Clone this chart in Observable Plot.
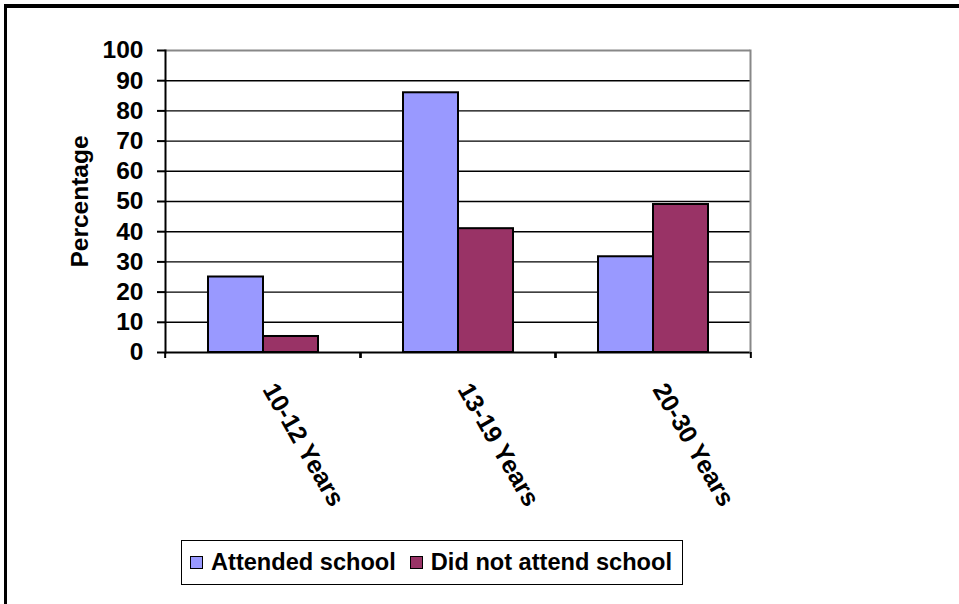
<!DOCTYPE html>
<html>
<head>
<meta charset="utf-8">
<script src="https://cdn.jsdelivr.net/npm/d3@7"></script>
<script src="https://cdn.jsdelivr.net/npm/@observablehq/plot@0.6"></script>
<style>
  html, body { margin: 0; padding: 0; background: #fff; width: 959px; height: 604px; overflow: hidden; }
  #frame { position: absolute; left: 4px; top: 4px; width: 1000px; height: 700px;
           border-top: 4px solid #000; border-left: 3px solid #000; box-sizing: border-box; }
  #chart { position: absolute; left: 0; top: 0; }
  #legend { position: absolute; left: 181px; top: 540px; width: 502px; height: 45px; box-sizing: border-box;
            border: 1.5px solid #000; background: #fff; display: flex; align-items: center; padding-left: 8px;
            font: bold 23.6px "Liberation Sans", Arial, sans-serif; color: #000; }
  .sw { width: 13px; height: 13px; box-sizing: border-box; border: 1.5px solid #000; margin-right: 8px; }
  .item { display: flex; align-items: center; margin-right: 14px; white-space: nowrap; }
</style>
</head>
<body>
<div id="frame"></div>
<div id="chart"></div>
<div id="legend"></div>
<script>
// ---- data ----
const categories = ["10-12 Years", "13-19 Years", "20-30 Years"];
const series = ["Attended school", "Did not attend school"];
const attended = [25, 86, 31.7];
const notAttended = [5.3, 41, 49];
const yTicks = [0, 10, 20, 30, 40, 50, 60, 70, 80, 90, 100];
const colors = ["#9999FF", "#993366"];

const rows = [];
categories.forEach((c, i) => {
  rows.push({cat: c, series: series[0], value: attended[i]});
  rows.push({cat: c, series: series[1], value: notAttended[i]});
});

// ---- layout ----
const W = 959, H = 530;
const mL = 164, mR = 208, mT = 50, mB = 178;
const half = (W - mL - mR) / categories.length / 2;

const chart = Plot.plot({
  width: W, height: H,
  marginLeft: mL, marginRight: mR, marginTop: mT, marginBottom: mB,
  style: {fontFamily: "'Liberation Sans', Arial, sans-serif", fontWeight: "bold", fontSize: "23.5px",
          background: "transparent", color: "#000", overflow: "visible"},
  fx: {domain: categories, paddingInner: 0, paddingOuter: 0, label: null},
  x: {domain: series, paddingInner: 0, paddingOuter: 0.766, axis: null},
  y: {domain: [0, 100], label: null},
  color: {domain: series, range: colors},
  marks: [
    Plot.ruleY(yTicks.filter(d => d > 0 && d < 100), {stroke: "#000", strokeWidth: 1.4}),
    Plot.ruleY([100], {stroke: "#888", strokeWidth: 2}),
    Plot.barY(rows, {fx: "cat", x: "series", y: "value", fill: "series", stroke: "#000", strokeWidth: 2}),
    Plot.ruleY([0], {stroke: "#000", strokeWidth: 2}),
    Plot.frame({anchor: "left", facetAnchor: "left", stroke: "#000", strokeWidth: 2}),
    Plot.frame({anchor: "right", facetAnchor: "right", stroke: "#888", strokeWidth: 2}),
    Plot.axisY({ticks: yTicks, tickSize: 8, tickPadding: 14, strokeWidth: 2,
                label: "Percentage", labelAnchor: "center", labelArrow: false, labelOffset: 95, fontSize: 24.5}),
    Plot.axisFx({anchor: "bottom", tickSize: 6, dx: half, strokeWidth: 2, text: null, label: null}),
    Plot.axisFx({anchor: "bottom", tickSize: 6, dx: -half, strokeWidth: 2, text: null, label: null}),
    Plot.axisFx({anchor: "bottom", tickSize: 0, tickPadding: 33, tickRotate: 60, fontSize: 25, dx: 6, label: null})
  ]
});
document.getElementById("chart").appendChild(chart);

// ---- legend ----
const legend = document.getElementById("legend");
series.forEach((s, i) => {
  const item = document.createElement("div");
  item.className = "item";
  const sw = document.createElement("div");
  sw.className = "sw";
  sw.style.background = colors[i];
  const t = document.createElement("span");
  t.textContent = s;
  item.appendChild(sw);
  item.appendChild(t);
  legend.appendChild(item);
});
</script>
</body>
</html>
